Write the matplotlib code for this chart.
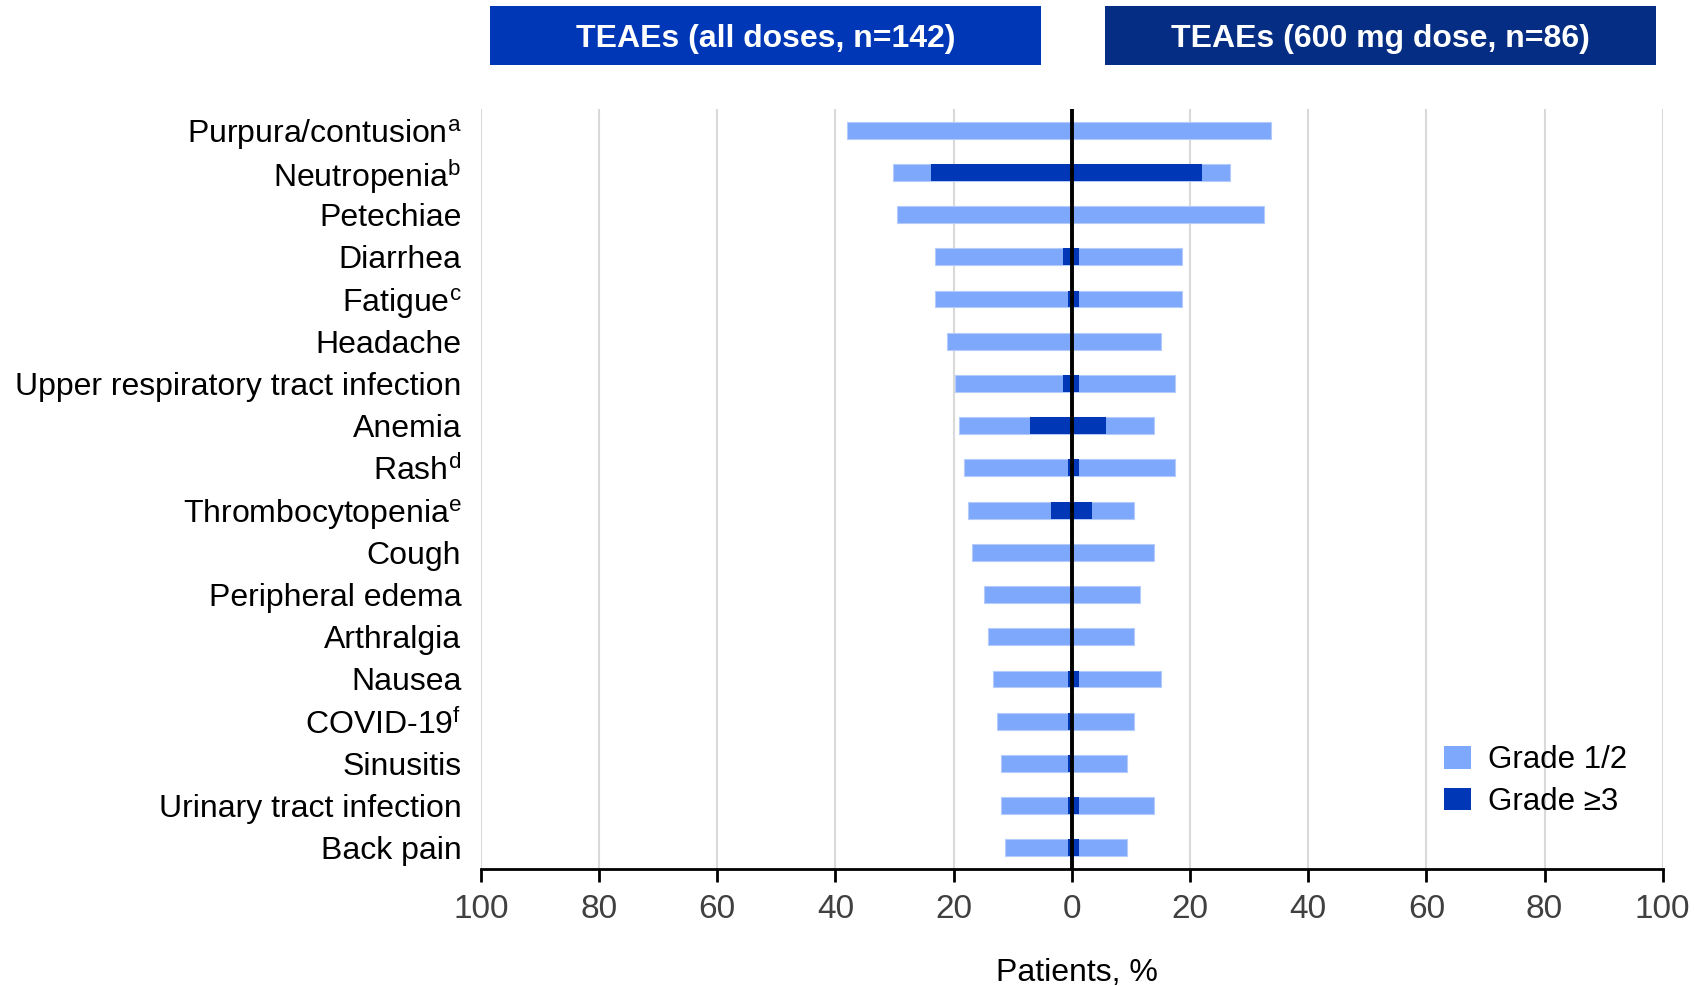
import matplotlib
matplotlib.use("Agg")
import matplotlib.pyplot as plt
from matplotlib.patches import Patch, Rectangle
import numpy as np

plt.rcParams['font.family'] = ['Liberation Sans', 'DejaVu Sans']
plt.rcParams['mathtext.fontset'] = 'custom'
plt.rcParams['mathtext.rm'] = 'Liberation Sans'
plt.rcParams['mathtext.it'] = 'Liberation Sans:italic'
plt.rcParams['mathtext.bf'] = 'Liberation Sans:bold'

# ---- data ----
categories = [
    r"Purpura/contusion$^{\rm a}$", r"Neutropenia$^{\rm b}$", "Petechiae", "Diarrhea",
    r"Fatigue$^{\rm c}$", "Headache", "Upper respiratory tract infection", "Anemia",
    r"Rash$^{\rm d}$", r"Thrombocytopenia$^{\rm e}$", "Cough", "Peripheral edema",
    "Arthralgia", "Nausea", r"COVID-19$^{\rm f}$", "Sinusitis",
    "Urinary tract infection", "Back pain",
]
all_doses_total = [38.0, 30.3, 29.6, 23.2, 23.2, 21.1, 19.7, 19.0, 18.3, 17.6,
                   16.9, 14.8, 14.1, 13.4, 12.7, 12.0, 12.0, 11.3]
all_doses_grade3 = [0, 23.9, 0, 1.4, 0.7, 0, 1.4, 7.0, 0.7, 3.5,
                    0, 0, 0, 0.7, 0.7, 0.7, 0.7, 0.7]
dose600_total = [33.7, 26.7, 32.6, 18.6, 18.6, 15.1, 17.4, 14.0, 17.4, 10.5,
                 14.0, 11.6, 10.5, 15.1, 10.5, 9.3, 14.0, 9.3]
dose600_grade3 = [0, 22.1, 0, 1.2, 1.2, 0, 1.2, 5.8, 1.2, 3.5,
                  0, 0, 0, 1.2, 0, 0, 1.2, 1.2]
xticks = [-100, -80, -60, -40, -20, 0, 20, 40, 60, 80, 100]
xtick_labels = ["100", "80", "60", "40", "20", "0", "20", "40", "60", "80", "100"]
legend_labels = ["Grade 1/2", "Grade \u22653"]
header_left = "TEAEs (all doses, n=142)"
header_right = "TEAEs (600 mg dose, n=86)"
xlabel = "Patients, %"

LIGHT = "#7EA8FC"
DARK = "#0037B7"
HEAD2 = "#042D83"

W, H = 1694, 986
fig = plt.figure(figsize=(W / 100, H / 100), dpi=100)
ax = fig.add_axes([480.8 / W, 1 - 869 / H, (1662.7 - 480.8) / W, (869 - 109) / H])

y = np.arange(len(categories))
bh = 0.4
left_total = -np.array(all_doses_total)
left_g3 = -np.array(all_doses_grade3)
right_total = np.array(dose600_total)
right_g3 = np.array(dose600_grade3)

for vals, col in [(left_total, LIGHT), (right_total, LIGHT)]:
    ax.barh(y, vals, height=bh, color=col, edgecolor="#B3CBFD", linewidth=0.8, zorder=2)
for vals in [left_g3, right_g3]:
    ax.barh(y, vals, height=bh, color=DARK, edgecolor="none", linewidth=0, zorder=3)

ax.axvline(0, color="black", linewidth=2.8, zorder=5)
for xv in xticks:
    if xv != 0:
        ax.axvline(xv, color="#D9D9D9", linewidth=1.5, zorder=1)

ax.set_xlim(-100, 100)
ax.set_ylim(len(categories) - 0.5, -0.5)
ax.set_yticks(y)
ax.set_yticklabels(categories, fontsize=23, color="black")
ax.tick_params(axis="y", length=0, pad=14)
ax.set_xticks(xticks)
ax.set_xticklabels(xtick_labels, fontsize=24, color="#404040")
ax.tick_params(axis="x", length=9, width=2, color="black", pad=9, direction="out")

for s in ["top", "left", "right"]:
    ax.spines[s].set_visible(False)
ax.spines["bottom"].set_linewidth(2)
ax.spines["bottom"].set_color("black")
ax.spines["bottom"].set_zorder(6)

fig.text(1077 / W, 1 - 973 / H, xlabel, fontsize=23, ha="center", va="center", color="black")

# header boxes
for (x0, x1, col, txt) in [(490, 1041, DARK, header_left), (1105, 1656, HEAD2, header_right)]:
    fig.patches.append(Rectangle((x0 / W, 1 - 64.7 / H), (x1 - x0) / W, 58.7 / H,
                                 transform=fig.transFigure, facecolor=col, edgecolor="none"))
    fig.text((x0 + x1) / 2 / W, 1 - 39.5 / H, txt, fontsize=23, fontweight="bold",
             color="white", ha="center", va="center")

handles = [Patch(facecolor=LIGHT, edgecolor="none"), Patch(facecolor=DARK, edgecolor="none")]
ax.legend(handles, legend_labels, loc="upper left", bbox_to_anchor=(1444 / W, 1 - 745 / H),
          bbox_transform=fig.transFigure, frameon=False, fontsize=22.5,
          handlelength=0.85, handleheight=0.75, handletextpad=0.57, labelspacing=0.38,
          borderpad=0, borderaxespad=0)

fig.savefig("out.png", dpi=100)
